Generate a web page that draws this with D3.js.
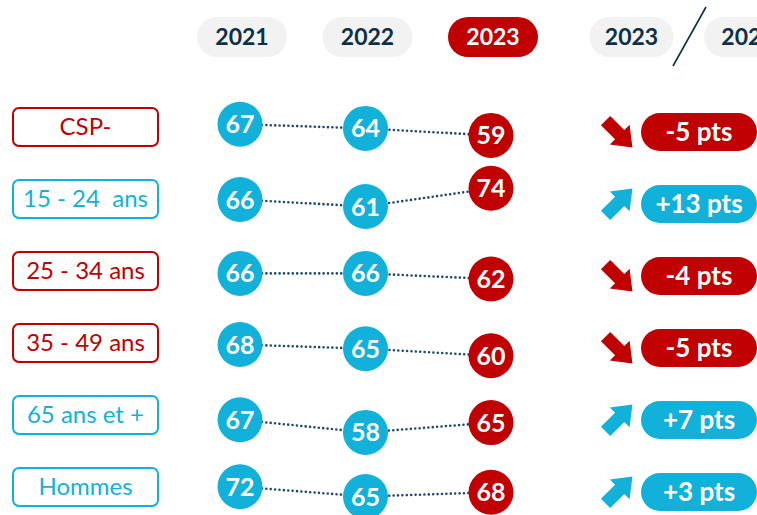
<!DOCTYPE html>
<html><head><meta charset="utf-8">
<script src="https://cdn.jsdelivr.net/npm/d3@7"></script>
<style>html,body{margin:0;padding:0;background:#fff;overflow:hidden}</style>
</head><body><svg id="c" width="757" height="515"></svg>
<script>
// ---- data ----
const categories = ["CSP-", "15 - 24  ans", "25 - 34 ans", "35 - 49 ans", "65 ans et +", "Hommes"];
const years = ["2021", "2022", "2023"];
const values2021 = [67, 66, 66, 68, 67, 72];
const values2022 = [64, 61, 66, 65, 58, 65];
const values2023 = [59, 74, 62, 60, 65, 68];
const compareYears = ["2023", "2022"];

// ---- style ----
const CYAN = "#12B1DA", RED = "#C00000", NAVY = "#0E2F44", DOT = "#1B4A6E", PILL = "#F2F2F2";
const FONT = "Lato, 'Open Sans', sans-serif";

const svg = d3.select("#c");

const x = d3.scalePoint().domain(years).range([240, 491]);
// label rows
const y = d3.scalePoint().domain(categories).range([127, 487]);
// circle rows (baseline at value 65) and value offset inside a row
const yc = d3.scalePoint().domain(categories).range([127, 496.5]);
const yOff = d3.scaleLinear().domain([65, 75]).range([0, -14]);

const rows = categories.map((c, i) => {
  const vals = [values2021[i], values2022[i], values2023[i]];
  const diff = values2023[i] - values2022[i];
  return {cat: c, vals, diff, color: diff < 0 ? RED : CYAN};
});

// ---- header pills ----
const head = svg.append("g");
years.forEach((yr, i) => {
  const last = i === years.length - 1;
  const g = head.append("g").attr("transform", `translate(${x(yr) + 2},37)`);
  g.append("rect").attr("x", -45).attr("y", -20).attr("width", 90).attr("height", 40)
    .attr("rx", 20).attr("fill", last ? RED : PILL);
  g.append("text").attr("text-anchor", "middle").attr("dy", "0.36em")
    .attr("font-family", FONT).attr("font-weight", "bold").attr("font-size", 23)
    .attr("fill", last ? "#fff" : NAVY).text(yr);
});
// comparison header
const cmpX = [631.5, 746];
compareYears.forEach((yr, i) => {
  const g = head.append("g").attr("transform", `translate(${cmpX[i]},37)`);
  g.append("rect").attr("x", -42).attr("y", -20).attr("width", 84).attr("height", 40)
    .attr("rx", 20).attr("fill", PILL);
  g.append("text").attr("text-anchor", "middle").attr("dy", "0.36em")
    .attr("x", i === 1 ? 2 : 0)
    .attr("font-family", FONT).attr("font-weight", "bold").attr("font-size", 23)
    .attr("fill", NAVY).text(yr);
});
head.append("line").attr("x1", 706).attr("y1", 7).attr("x2", 673).attr("y2", 66)
  .attr("stroke", NAVY).attr("stroke-width", 1.6);

// ---- rows ----
const rowG = svg.selectAll("g.row").data(rows).join("g").attr("class", "row");

// category label boxes
rowG.append("rect").attr("x", 13).attr("y", d => y(d.cat) - 19).attr("width", 145).attr("height", 38)
  .attr("rx", 6).attr("fill", "#fff").attr("stroke", d => d.color).attr("stroke-width", 2);
rowG.append("text").attr("x", 85.5).attr("y", d => y(d.cat)).attr("dy", "0.35em")
  .attr("text-anchor", "middle").attr("font-family", FONT).attr("font-size", 24)
  .attr("fill", d => d.color).style("white-space", "pre").text(d => d.cat);

// dotted connectors
const line = d3.line().x(p => p[0]).y(p => p[1]);
rowG.append("path")
  .attr("d", d => line(d.vals.map((v, j) => [x(years[j]), yc(d.cat) + yOff(v)])))
  .attr("fill", "none").attr("stroke", DOT).attr("stroke-width", 2.6)
  .attr("stroke-linecap", "round").attr("stroke-dasharray", "0 4.4");

// circles
rowG.each(function(d) {
  const g = d3.select(this);
  d.vals.forEach((v, j) => {
    const cx = x(years[j]), cy = yc(d.cat) + yOff(v);
    g.append("circle").attr("cx", cx).attr("cy", cy).attr("r", 22.5)
      .attr("fill", j === years.length - 1 ? RED : CYAN);
    g.append("text").attr("x", cx).attr("y", cy).attr("dy", "0.36em").attr("text-anchor", "middle")
      .attr("font-family", FONT).attr("font-weight", "bold").attr("font-size", 25)
      .attr("fill", "#fff").text(v);
  });
});

// arrows
const arrowPath = "M-19,-6.5 L1,-6.5 L1,-14 L19,0 L1,14 L1,6.5 L-19,6.5 Z";
rowG.append("path").attr("d", arrowPath).attr("fill", d => d.color)
  .attr("transform", d => {
    const cy = y(d.cat) + 5;
    return d.diff < 0 ? `translate(619,${cy + 2}) rotate(45)` : `translate(619,${cy - 2}) rotate(-45)`;
  });

// change pills
rowG.append("rect").attr("x", 641).attr("y", d => y(d.cat) + 5 - 19).attr("width", 116).attr("height", 38)
  .attr("rx", 19).attr("fill", d => d.color);
rowG.append("text").attr("x", 699).attr("y", d => y(d.cat) + 5).attr("dy", "0.36em")
  .attr("text-anchor", "middle").attr("font-family", FONT).attr("font-weight", "bold").attr("font-size", 26)
  .attr("fill", "#fff").text(d => (d.diff > 0 ? "+" : "") + d.diff + " pts");
</script>
</body></html>
